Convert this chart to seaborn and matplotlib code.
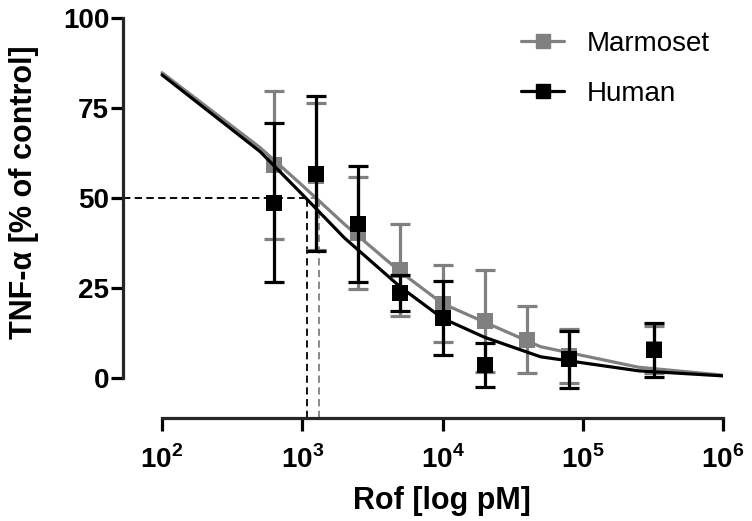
import matplotlib
matplotlib.use("Agg")
import matplotlib.pyplot as plt
import seaborn as sns
from matplotlib.lines import Line2D
from matplotlib.ticker import NullLocator

# Konsantrasyonlar (pM) ve ortalama +/- SEM
conc_marmoset = [625, 1250, 2500, 5000, 10000, 20000, 40000, 80000, 320000]
mean_marmoset = [59.2, 56.0, 40.2, 30.0, 20.7, 15.9, 10.6, 6.0, 8.0]
sem_marmoset = [20.5, 20.5, 15.6, 12.8, 10.7, 14.2, 9.3, 7.5, 6.5]

conc_human = [625, 1250, 2500, 5000, 10000, 20000, 80000, 320000]
mean_human = [48.7, 56.7, 42.8, 23.5, 16.6, 3.6, 5.2, 7.8]
sem_human = [22.0, 21.5, 16.0, 5.0, 10.3, 6.2, 7.9, 7.5]

# Fit egrileri
curve_x = [100, 500, 1000, 2000, 5000, 10000, 20000, 50000, 250000, 1000000]
curve_marmoset = [84.8, 64.0, 53.5, 42.7, 29.5, 20.7, 15.5, 8.7, 3.0, 0.8]
curve_human = [84.2, 62.9, 51.0, 38.9, 25.3, 16.6, 11.3, 5.9, 2.0, 0.6]

ic50_marmoset = 1309
ic50_human = 1082

x_ticks = [1e2, 1e3, 1e4, 1e5, 1e6]
x_ticklabels = [r"$\mathbf{10}^{\mathrm{%d}}$" % e for e in range(2, 7)]
y_ticks = [0, 25, 50, 75, 100]

gray = "#808080"
black = "#000000"

sns.set_style("ticks")
plt.rcParams["font.family"] = ["Liberation Sans", "DejaVu Sans"]
plt.rcParams["font.weight"] = "bold"
plt.rcParams["text.color"] = "black"
plt.rcParams["axes.labelcolor"] = "black"
plt.rcParams["mathtext.fontset"] = "custom"
plt.rcParams["mathtext.bf"] = "Liberation Sans:bold"
plt.rcParams["mathtext.rm"] = "Liberation Sans"

fig = plt.figure(figsize=(7.52, 5.21), dpi=100)
ax = fig.add_axes([0.1636, 0.1977, 0.7978, 0.7678])
ax.set_xscale("log")

xmin = 52.7
ymin = -11.1

# IC50 kesikli cizgiler
for ic50, col in [(ic50_marmoset, gray), (ic50_human, black)]:
    ax.plot([xmin, ic50], [50, 50], color=col, lw=1.3, dashes=(4, 2.5), zorder=1)
    ax.plot([ic50, ic50], [ymin, 50], color=col, lw=1.3, dashes=(4, 2.5), zorder=1)

for conc, mean, sem, cx, cy, col, z in [
    (conc_marmoset, mean_marmoset, sem_marmoset, curve_x, curve_marmoset, gray, 2),
    (conc_human, mean_human, sem_human, curve_x, curve_human, black, 5),
]:
    ax.errorbar(conc, mean, yerr=sem, fmt="none", ecolor=col, elinewidth=2.3,
                capsize=7, capthick=2.3, zorder=z)
    sns.scatterplot(x=conc, y=mean, marker="s", s=144, color=col, linewidth=0,
                    ax=ax, zorder=z + 1)
    sns.lineplot(x=cx, y=cy, color=col, lw=2.3, ax=ax, zorder=z + 2)

ax.set_xlim(xmin, 1e6)
ax.set_ylim(ymin, 100)
ax.set_xticks(x_ticks)
ax.set_xticklabels(x_ticklabels)
ax.xaxis.set_minor_locator(NullLocator())
ax.set_yticks(y_ticks)

sns.despine(ax=ax)
ax.spines["left"].set_bounds(0, 100)
ax.spines["bottom"].set_bounds(1e2, 1e6)
for s in ["left", "bottom"]:
    ax.spines[s].set_linewidth(2.3)
ax.tick_params(axis="both", width=2.3, length=9, labelsize=20, colors="black")
ax.tick_params(axis="x", pad=11)
ax.tick_params(axis="y", pad=1)

ax.set_xlabel("Rof [log pM]", fontsize=22, fontweight="bold")
ax.set_ylabel("TNF-\u03b1 [% of control]", fontsize=22, fontweight="bold")
ax.xaxis.set_label_coords(0.532, -0.17)
ax.yaxis.set_label_coords(-0.14, 0.565)

handles = [
    Line2D([], [], color=gray, lw=2.3, marker="s", markersize=10),
    Line2D([], [], color=black, lw=2.3, marker="s", markersize=10),
]
fig.legend(handles, ["Marmoset", "Human"], loc="upper left",
           bbox_to_anchor=(521 / 752, 1 - 31 / 521), frameon=False,
           prop={"size": 20, "weight": "normal"}, handlelength=1.55,
           handletextpad=0.8, labelspacing=0.85, borderpad=0, borderaxespad=0)

fig.savefig("out.png", dpi=100)
